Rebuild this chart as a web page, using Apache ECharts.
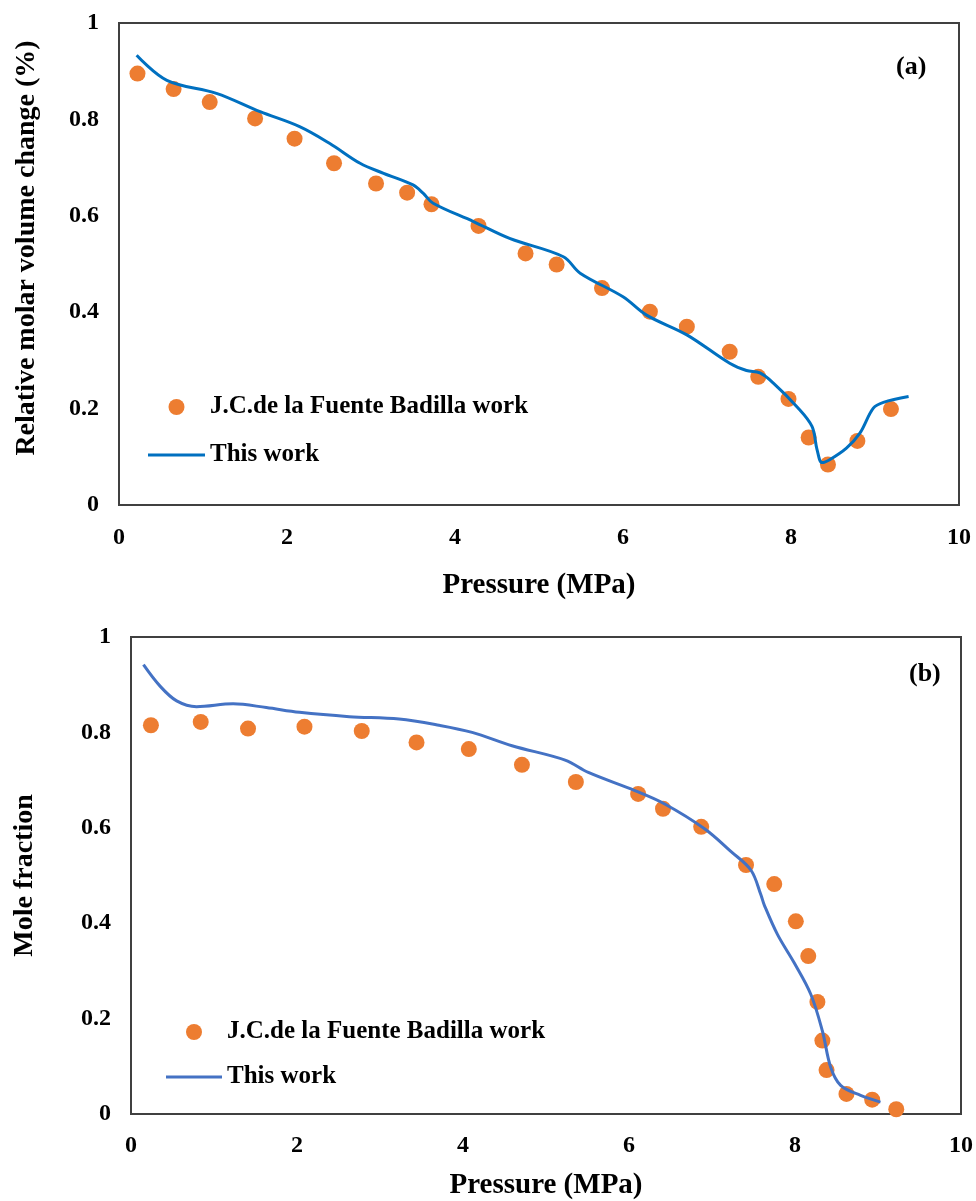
<!DOCTYPE html>
<html>
<head>
<meta charset="utf-8">
<script src="https://cdn.jsdelivr.net/npm/echarts@6/dist/echarts.min.js"></script>
<style>
html,body{margin:0;padding:0;background:#fff;}
#chart{width:976px;height:1201px;}
</style>
</head>
<body>
<div id="chart"></div>
<script>
// ---- Panel (a): relative molar volume change ----
const expA_P = [0.22, 0.65, 1.08, 1.62, 2.09, 2.56, 3.06, 3.43, 3.72, 4.28, 4.84, 5.21, 5.75, 6.32, 6.76, 7.27, 7.61, 7.97, 8.21, 8.44, 8.79, 9.19];
const expA_V = [0.895, 0.863, 0.836, 0.802, 0.760, 0.709, 0.667, 0.648, 0.624, 0.579, 0.522, 0.499, 0.450, 0.401, 0.370, 0.318, 0.266, 0.220, 0.140, 0.084, 0.133, 0.199];
const modA_P = [0.21, 0.57, 1.16, 1.68, 2.15, 2.51, 2.87, 3.15, 3.50, 3.62, 3.74, 4.22, 4.65, 5.29, 5.49, 6.00, 6.28, 6.76, 7.27, 7.47, 7.63, 7.79, 8.07, 8.25, 8.31, 8.37, 8.46, 8.66, 8.82, 8.98, 9.10, 9.40];
const modA_V = [0.933, 0.881, 0.854, 0.816, 0.785, 0.750, 0.709, 0.688, 0.664, 0.647, 0.626, 0.588, 0.553, 0.515, 0.481, 0.432, 0.394, 0.353, 0.294, 0.279, 0.274, 0.253, 0.204, 0.163, 0.115, 0.088, 0.094, 0.118, 0.149, 0.201, 0.213, 0.225];

// ---- Panel (b): mole fraction ----
const expB_P = [0.24, 0.84, 1.41, 2.09, 2.78, 3.44, 4.07, 4.71, 5.36, 6.11, 6.41, 6.87, 7.41, 7.75, 8.01, 8.16, 8.27, 8.33, 8.38, 8.62, 8.93, 9.22];
const expB_X = [0.815, 0.822, 0.808, 0.812, 0.803, 0.779, 0.765, 0.732, 0.696, 0.671, 0.640, 0.602, 0.522, 0.482, 0.404, 0.331, 0.235, 0.154, 0.092, 0.042, 0.030, 0.010];
const modB_P = [0.15, 0.35, 0.55, 0.79, 1.23, 1.63, 2.03, 2.63, 3.23, 3.71, 4.11, 4.59, 5.23, 5.51, 6.07, 6.43, 6.91, 7.23, 7.47, 7.59, 7.63, 7.79, 7.99, 8.19, 8.33, 8.43, 8.55, 8.79, 9.03];
const modB_X = [0.942, 0.897, 0.866, 0.854, 0.860, 0.852, 0.842, 0.833, 0.828, 0.815, 0.800, 0.772, 0.742, 0.716, 0.678, 0.650, 0.598, 0.550, 0.511, 0.459, 0.438, 0.376, 0.317, 0.251, 0.174, 0.098, 0.060, 0.039, 0.025];

const expName = 'J.C.de la Fuente Badilla work';
const modName = 'This work';
const xTitle = 'Pressure (MPa)';
const yTitleA = 'Relative molar volume change (%)';
const yTitleB = 'Mole fraction';

const zip = (a, b) => a.map((v, i) => [v, b[i]]);
const FONT = '"Liberation Serif", "Times New Roman", serif';
const LINE_ICON = 'path://M0,0H40V2H0Z';

function xAxisCfg(gridIndex, gap, margin) {
  return {
    type: 'value', gridIndex, min: 0, max: 10, interval: 2,
    name: xTitle, nameLocation: 'middle', nameGap: gap,
    nameTextStyle: { fontFamily: FONT, fontWeight: 'bold', fontSize: 29, color: '#000' },
    axisLine: { show: true, lineStyle: { color: '#404040', width: 2 } },
    axisTick: { show: false }, splitLine: { show: false },
    axisLabel: { margin, fontFamily: FONT, fontWeight: 'bold', fontSize: 24, color: '#000' }
  };
}
function yAxisCfg(gridIndex, name, gap, shift) {
  return {
    type: 'value', gridIndex, min: 0, max: 1, interval: 0.2,
    name, nameLocation: 'middle', nameGap: gap,
    nameTextStyle: { fontFamily: FONT, fontWeight: 'bold', fontSize: 28, color: '#000', padding: [0, 0, 0, shift] },
    axisLine: { show: true, lineStyle: { color: '#404040', width: 2 } },
    axisTick: { show: false }, splitLine: { show: false },
    axisLabel: { margin: 20, fontFamily: FONT, fontWeight: 'bold', fontSize: 24, color: '#000' }
  };
}
function legendCfg(left, top, gap, names, w, lineColor) {
  return {
    orient: 'vertical', left, top, itemGap: gap, itemWidth: w, itemHeight: 16, padding: 0,
    data: names.map((n, i) => i === 1
      ? { name: n, icon: LINE_ICON, lineStyle: { color: lineColor, width: 3 }, itemStyle: { color: lineColor } }
      : { name: n, icon: 'circle' }),
    formatter: n => n.replace(/ \(b\)$/, ''),
    textStyle: { fontFamily: FONT, fontWeight: 'bold', fontSize: 25, color: '#000', lineHeight: 26 }
  };
}

const chart = echarts.init(document.getElementById('chart'), null, { renderer: 'canvas' });
chart.setOption({
  backgroundColor: '#fff',
  animation: false,
  title: [
    { text: '(a)', left: 896, top: 54, padding: 0, textStyle: { fontFamily: FONT, fontWeight: 'bold', fontSize: 26, color: '#000' } },
    { text: '(b)', left: 909, top: 661, padding: 0, textStyle: { fontFamily: FONT, fontWeight: 'bold', fontSize: 26, color: '#000' } }
  ],
  grid: [
    { left: 119, top: 23, width: 840, height: 482, show: true, borderColor: '#404040', borderWidth: 2, backgroundColor: 'transparent' },
    { left: 131, top: 637, width: 833, height: 480, show: true, borderColor: '#404040', borderWidth: 2, backgroundColor: 'transparent' }
  ],
  xAxis: [xAxisCfg(0, 66, 21), xAxisCfg(1, 57, 20)],
  yAxis: [yAxisCfg(0, yTitleA, 78, 32), yAxisCfg(1, yTitleB, 92, 0)],
  legend: [
    legendCfg(148, 394, 22, [expName, modName], 57, '#0070C0'),
    legendCfg(166, 1019, 19, [expName + ' (b)', modName + ' (b)'], 56, '#4472C4')
  ],
  series: [
    { name: modName, type: 'line', xAxisIndex: 0, yAxisIndex: 0, data: zip(modA_P, modA_V), smooth: 0.35, symbol: 'none', lineStyle: { color: '#0070C0', width: 3 }, itemStyle: { color: '#0070C0' }, z: 2 },
    { name: expName, type: 'scatter', xAxisIndex: 0, yAxisIndex: 0, data: zip(expA_P, expA_V), symbol: 'circle', symbolSize: 16, itemStyle: { color: '#ED7D31', opacity: 1 }, z: 1 },
    { name: modName + ' (b)', type: 'line', xAxisIndex: 1, yAxisIndex: 1, data: zip(modB_P, modB_X), smooth: 0.35, symbol: 'none', lineStyle: { color: '#4472C4', width: 3 }, itemStyle: { color: '#4472C4' }, z: 2 },
    { name: expName + ' (b)', type: 'scatter', xAxisIndex: 1, yAxisIndex: 1, data: zip(expB_P, expB_X), symbol: 'circle', symbolSize: 16, itemStyle: { color: '#ED7D31', opacity: 1 }, z: 1 }
  ]
});
</script>
</body>
</html>
